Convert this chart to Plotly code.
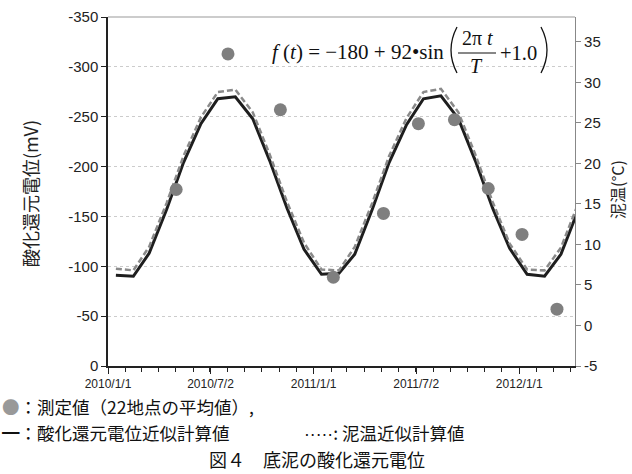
import plotly.graph_objects as go
import pandas as pd

# ---- data ----
calc_dates = pd.date_range("2010-01-01", periods=28, freq="MS") + pd.Timedelta(days=14)
orp_calc = [-91, -90, -113, -157, -204, -243, -268, -270, -248, -206, -158, -117,
            -92, -93, -112, -157, -204, -242, -268, -271, -248, -206, -158, -118,
            -92, -90, -112, -157]
temp_calc = [7.0, 6.8, 9.7, 15.1, 20.9, 25.7, 28.8, 29.1, 26.3, 21.1, 15.2, 10.2,
             6.9, 6.8, 9.7, 15.1, 20.9, 25.6, 28.8, 29.2, 26.3, 21.1, 15.2, 10.1,
             6.9, 6.8, 9.6, 15.1]
meas_dates = ["2010-05-02", "2010-08-02", "2010-11-03", "2011-02-05", "2011-05-05",
              "2011-07-06", "2011-09-08", "2011-11-07", "2012-01-06", "2012-03-08"]
orp_meas = [-177, -313, -257, -89, -153, -243, -247, -178, -132, -57]

x_tickvals = ["2010-01-01", "2010-07-02", "2011-01-01", "2011-07-02", "2012-01-01"]
x_ticktext = ["2010/1/1", "2010/7/2", "2011/1/1", "2011/7/2", "2012/1/1"]
y_tickvals = [0, -50, -100, -150, -200, -250, -300, -350]
y_ticktext = ["0", "-50", "-100", "-150", "-200", "-250", "-300", "-350"]
y2_tickvals = [-5, 0, 5, 10, 15, 20, 25, 30, 35]
y2_ticktext = ["-5", "0", "5", "10", "15", "20", "25", "30", "35"]

W, H = 632, 474
L, R, T, B = 108, 575, 17, 366


def px(x):
    return (x - L) / (R - L)


def py(y):
    return (B - y) / (B - T)


fig = go.Figure()
fig.add_trace(go.Scatter(x=calc_dates, y=orp_calc, mode="lines",
                         line=dict(color="#1e1e1e", width=3), yaxis="y",
                         showlegend=False))
fig.add_trace(go.Scatter(x=calc_dates, y=temp_calc, mode="lines",
                         line=dict(color="#8a8a8a", width=2.5, dash="6px,3px"),
                         yaxis="y2", showlegend=False))
fig.add_trace(go.Scatter(x=meas_dates, y=orp_meas, mode="markers",
                         marker=dict(color="#7f7f7f", size=13), yaxis="y3",
                         showlegend=False))

minor_ticks = pd.date_range("2010-02-01", "2012-04-01", freq="MS")

fig.update_layout(
    width=W, height=H,
    margin=dict(l=L, r=W - R, t=T, b=H - B, autoexpand=False),
    paper_bgcolor="white", plot_bgcolor="white",
    font=dict(family="Liberation Sans, Arial", color="#222", size=14),
    xaxis=dict(type="date", range=["2010-01-01", "2012-04-09"], automargin=False,
               tickmode="array", tickvals=x_tickvals, ticktext=x_ticktext,
               ticks="outside", ticklen=6, tickcolor="#222",
               tickfont=dict(size=12, family="Liberation Sans Narrow, Liberation Sans"),
               showline=True, linecolor="#222", linewidth=1.5,
               showgrid=False, zeroline=False, mirror=False,
               minor=dict(tickmode="array", tickvals=list(minor_ticks),
                          ticks="outside", ticklen=4, tickcolor="#222")),
    yaxis=dict(range=[0, -350], tickmode="array", tickvals=y_tickvals, automargin=False,
               ticktext=y_ticktext, ticks="outside", ticklen=5, tickcolor="#222",
               tickfont=dict(size=15), showline=True, linecolor="#222",
               linewidth=1.5, showgrid=True, gridcolor="#cccccc", griddash="dot",
               gridwidth=1, zeroline=False),
    yaxis2=dict(range=[-5, 38.06], overlaying="y", side="right", automargin=False,
                tickmode="array", tickvals=y2_tickvals, ticktext=y2_ticktext,
                ticks="outside", ticklen=5, tickcolor="#888",
                tickfont=dict(size=15), showline=True, linecolor="#888",
                linewidth=1.2, showgrid=False, zeroline=False),
    yaxis3=dict(range=[0, -350], overlaying="y", visible=False),
)

# top frame line
fig.add_shape(type="line", xref="paper", yref="paper", x0=0, x1=1, y0=1, y1=1,
              line=dict(color="#999", width=1.2))

ann = []
cjk = "Noto Sans CJK JP"
serif = "Liberation Serif, Times New Roman"
# axis titles
ann.append(dict(text="酸化還元電位(mV)", x=px(30), y=py(194), textangle=-90,
                font=dict(family=cjk, size=18, color="#222")))
ann.append(dict(text="泥温(°C)", x=px(617), y=py(190), textangle=-90,
                font=dict(family=cjk, size=16, color="#222")))
# formula
ann.append(dict(text="<i>f</i> (<i>t</i>) = −180 + 92•sin", x=px(270), y=py(52),
                xanchor="left", font=dict(family=serif, size=21, color="#111")))
ann.append(dict(text="2π <i>t</i>", x=px(477), y=py(38), font=dict(family=serif, size=20, color="#111")))
ann.append(dict(text="<i>T</i>", x=px(476), y=py(66), font=dict(family=serif, size=20, color="#111")))
ann.append(dict(text="+1.0", x=px(498), y=py(53), xanchor="left",
                font=dict(family=serif, size=20.5, color="#111")))
fig.add_shape(type="line", xref="paper", yref="paper", x0=px(458), x1=px(496),
              y0=py(53), y1=py(53), line=dict(color="#111", width=1.2))
# big parentheses as thin curves
fig.add_shape(type="path", xref="paper", yref="paper",
              path=f"M {px(457)},{py(27)} Q {px(445)},{py(50)} {px(457)},{py(73)}",
              line=dict(color="#111", width=1.3))
fig.add_shape(type="path", xref="paper", yref="paper",
              path=f"M {px(541)},{py(27)} Q {px(553)},{py(50)} {px(541)},{py(73)}",
              line=dict(color="#111", width=1.3))
# legend / caption text
ann.append(dict(text="<span style='color:#999'>●</span>：測定値（22地点の平均値）,",
                x=px(0), y=py(406), xanchor="left",
                font=dict(family=cjk, size=17.5, color="#111")))
ann.append(dict(text="━：酸化還元電位近似計算値", x=px(0), y=py(432), xanchor="left",
                font=dict(family=cjk, size=17.5, color="#111")))
ann.append(dict(text="<span style='font-family:Liberation Sans'>·····</span>: 泥温近似計算値",
                x=px(302), y=py(432), xanchor="left",
                font=dict(family=cjk, size=17.5, color="#111")))
ann.append(dict(text="図４　底泥の酸化還元電位", x=px(317), y=py(459),
                font=dict(family=cjk, size=18, color="#111")))

for a in ann:
    a.update(xref="paper", yref="paper", showarrow=False)
    a.setdefault("xanchor", "center")
    a.setdefault("yanchor", "middle")
fig.update_layout(annotations=ann)

fig.write_html("out.html", config={"displayModeBar": False},
               post_script="document.body.style.margin='0';document.body.style.padding='0';")
